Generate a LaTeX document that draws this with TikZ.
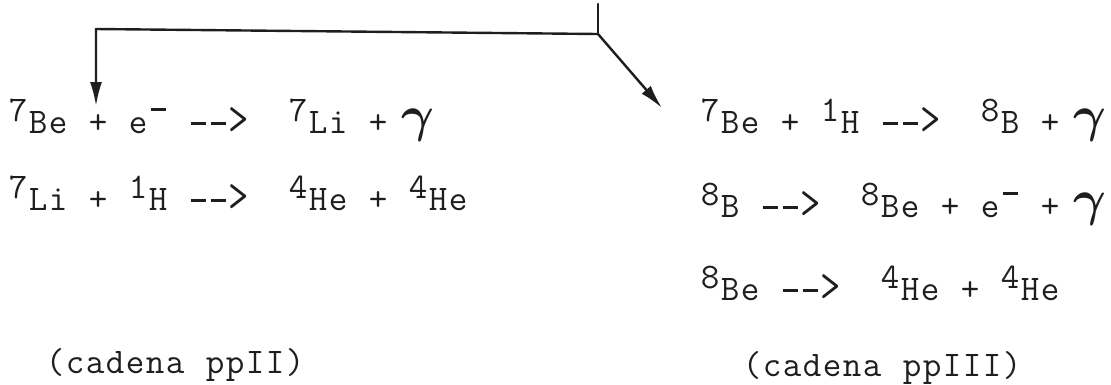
\RequirePackage{fix-cm}
\documentclass[tikz,border=0pt]{standalone}
\usepackage{bm}
\usepackage{graphicx}
\usepackage{fontspec}
\usetikzlibrary{arrows.meta}
\makeatletter
\newcommand\tline[1]{\@tfor\tl@x:=#1\do{\makebox[20pt][c]{\tl@x}}}
\makeatother
\newcommand\up[1]{\raisebox{12pt}{#1}}
\newcommand\mn{\raisebox{22pt}{\makebox[14pt]{\rule{15pt}{3pt}}}}
\newcommand\ds{\rule[8pt]{15pt}{2.8pt}}
\newcommand\hd{\raisebox{-1pt}{\scalebox{1.1}[1.35]{>}}}
\newcommand\gm{\raisebox{2pt}{\scalebox{1.4}{$\bm{\gamma}$}}}
\definecolor{ink}{HTML}{1E1E1E}
\begin{document}
\begin{tikzpicture}[x=1pt,y=-1pt,
  eq/.style={anchor=base west,inner sep=0pt,text=ink,
    font=\ttfamily\fontsize{36}{42}\selectfont\addfontfeatures{FakeBold=3}},
  lbl/.style={eq},
  flow/.style={draw=ink,line width=2.4pt,line cap=round,line join=round},
  tip/.style={-{Latex[length=24pt,width=12pt]}}]
\useasboundingbox (0,0) rectangle (1111,384);
% left chain (ppII)
\node[eq] (l1) at (8,133) {\tline{{\up7}Be~+~e{\mn}~{\ds}{\ds}{\hd}~~{\up7}Li~+~{\gm}}};
\node[eq] (l2) at (8,210) {\tline{{\up7}Li~+~{\up1}H~{\ds}{\ds}{\hd}~~{\up4}He~+~{\up4}He}};
\node[lbl] (cII) at (45,373) {\tline{(cadena~ppII)}};
% right chain (ppIII)
\node[eq] (r1) at (700,133) {\tline{{\up7}Be~+~{\up1}H~{\ds}{\ds}{\hd}~~{\up8}B~+~{\gm}}};
\node[eq] (r2) at (700,217) {\tline{{\up8}B~{\ds}{\ds}{\hd}~~{\up8}Be~+~e{\mn}~+~{\gm}}};
\node[eq] (r3) at (700,300) {\tline{{\up8}Be~{\ds}{\ds}{\hd}~~{\up4}He~+~{\up4}He}};
\node[lbl] (cIII) at (742,376) {\tline{(cadena~ppIII)}};
% connectors
\coordinate (top) at (598,4);
\coordinate (jn) at (598,34);
\coordinate (corner) at (96,29);
\coordinate (ltip) at (96,106);
\coordinate (rtip) at (662,108);
\draw[flow] (top) -- (jn);
\draw[flow,tip] (jn) -- (corner) -- (ltip);
\draw[flow,tip] (jn) -- (rtip);
\end{tikzpicture}
\end{document}
